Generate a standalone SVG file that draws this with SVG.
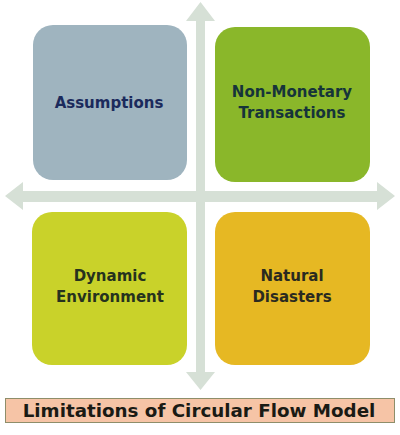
<svg xmlns="http://www.w3.org/2000/svg" width="400" height="435" viewBox="0 0 400 435">
<style>
.lbl{font-family:"DejaVu Sans","Liberation Sans",sans-serif;font-weight:bold;font-size:15px;text-anchor:middle}
.arrow{fill:#d6e0d6}
</style>
<rect width="400" height="435" fill="#ffffff"/>
<g id="connectors">
<polygon class="arrow" points="196,21 186,21 200.5,2 215,21 205,21 205,372 215,372 200.5,390 186,372 196,372"/>
<polygon class="arrow" points="23,191 23,182 5,196 23,210 23,202 377,202 377,210 395,196 377,182 377,191"/>
</g>
<g id="assumptions">
<rect x="33" y="25" width="154" height="155" rx="20" fill="#9fb4bf"/>
<text class="lbl" x="109" y="108" fill="#1b2a5c">Assumptions</text>
</g>
<g id="non-monetary">
<rect x="215" y="27" width="155" height="155" rx="20" fill="#8ab72a"/>
<text class="lbl" x="292" y="97" fill="#16343a">Non-Monetary</text>
<text class="lbl" x="292" y="118" fill="#16343a">Transactions</text>
</g>
<g id="dynamic">
<rect x="32" y="212" width="155" height="153" rx="20" fill="#c9d22a"/>
<text class="lbl" x="110" y="281" fill="#26321e">Dynamic</text>
<text class="lbl" x="110" y="302" fill="#26321e">Environment</text>
</g>
<g id="natural">
<rect x="215" y="212" width="155" height="153" rx="20" fill="#e6b823"/>
<text class="lbl" x="292" y="281" fill="#2a2a20">Natural</text>
<text class="lbl" x="292" y="302" fill="#2a2a20">Disasters</text>
</g>
<g id="title">
<rect x="5.5" y="398.5" width="389" height="24" fill="#f6c4a6" stroke="#8e8e6a" stroke-width="1"/>
<text class="lbl" x="199" y="417" style="font-size:18.3px" fill="#1a1a14">Limitations of Circular Flow Model</text>
</g>
</svg>
